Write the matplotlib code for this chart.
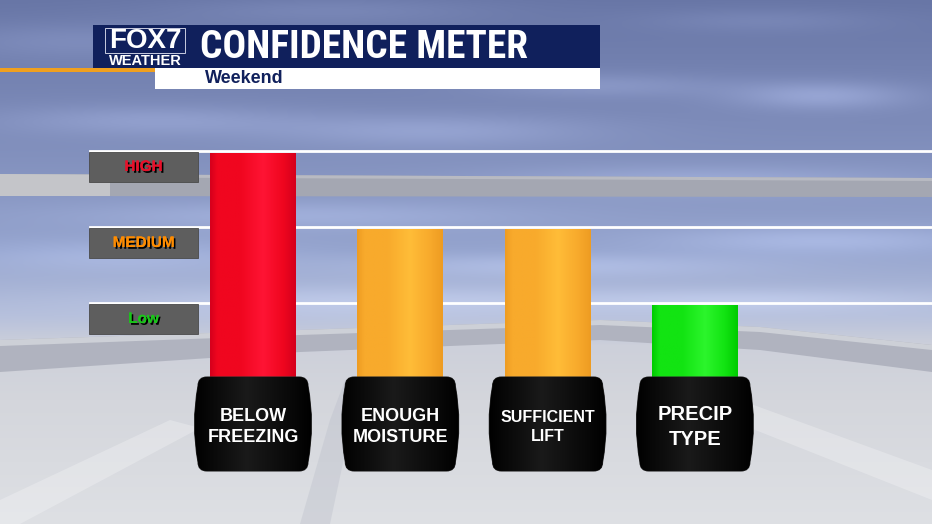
import os
import numpy as np
import matplotlib
matplotlib.use("Agg")
import matplotlib.pyplot as plt
from matplotlib.patches import Rectangle, Polygon, PathPatch
from matplotlib.path import Path
from matplotlib import patheffects, font_manager
from matplotlib.font_manager import FontProperties

# ---------------- data ----------------
categories = ["BELOW\nFREEZING", "ENOUGH\nMOISTURE", "SUFFICIENT\nLIFT", "PRECIP\nTYPE"]
confidence = [3, 2, 2, 1]          # 1 = Low, 2 = Medium, 3 = High
level_names = ["Low", "MEDIUM", "HIGH"]
level_values = [1, 2, 3]
title = "CONFIDENCE METER"
subtitle = "Weekend"

# ---------------- styles ----------------
bar_edge = ["#d6001c", "#ee9c22", "#ee9c22", "#00cc00"]
bar_mid = ["#f0061f", "#f8aa2c", "#f8aa2c", "#12e412"]
bar_hi = ["#ff1434", "#ffbd38", "#ffbd38", "#2cf52c"]
level_colors = ["#19c619", "#ff8c00", "#e8102a"]
label_sizes = [13, 13, 11.5, 14.5]

SANS = "Liberation Sans"


def find_condensed_bold():
    prefs = ["liberationsansnarrow", "robotocondensed", "opensans", "notosans", "roboto",
             "dejavusans", "lato", "inter"]
    found = []
    for f in font_manager.fontManager.ttflist:
        base = os.path.basename(f.fname).lower().replace("-", "").replace("_", "")
        if ("condensed" in base or "narrow" in base) and ("bold" in base) \
                and "semi" not in base and "extra" not in base and "italic" not in base \
                and "oblique" not in base:
            rank = len(prefs)
            for i, p in enumerate(prefs):
                if base.startswith(p):
                    rank = i
                    break
            found.append((rank, f.fname))
    if found:
        found.sort()
        return FontProperties(fname=found[0][1])
    return FontProperties(family=SANS, weight="bold")


COND = find_condensed_bold()

W, H = 932, 524
fig = plt.figure(figsize=(W / 100, H / 100), dpi=100)
renderer = fig.canvas.get_renderer()


def fit_text(t, target_w):
    bb = t.get_window_extent(renderer=renderer)
    if bb.width > 0:
        t.set_fontsize(t.get_fontsize() * target_w / bb.width)


# ---------------- background (decorative) ----------------
axd = fig.add_axes([0, 0, 1, 1], zorder=0)
axd.set_xlim(0, W)
axd.set_ylim(H, 0)
axd.axis("off")

yy, xx = np.mgrid[0:H, 0:W].astype(float)
ys = [0, 120, 250, 315, 345, 400, 524]
R = np.interp(yy, ys, [104, 124, 148, 182, 205, 212, 222])
G = np.interp(yy, ys, [118, 138, 163, 192, 208, 214, 224])
B = np.interp(yy, ys, [166, 184, 205, 220, 218, 220, 228])
img = np.stack([R, G, B], axis=-1)
clouds = [(820, 95, 90, 14, 30), (600, 85, 120, 12, 18), (430, 130, 160, 16, 22),
          (150, 120, 150, 15, 20), (700, 180, 200, 14, 20), (300, 215, 220, 14, 18),
          (820, 240, 160, 14, 22), (120, 255, 150, 16, 16), (560, 265, 200, 12, 18),
          (380, 300, 250, 15, 15), (760, 300, 180, 12, 15), (80, 40, 140, 18, 15),
          (330, 10, 160, 14, 14), (760, 20, 120, 12, 12)]
for cx, cy, sx, sy, amp in clouds:
    g = np.exp(-(((xx - cx) / sx) ** 2 + ((yy - cy) / sy) ** 2))
    img += amp * g[..., None]
img = np.clip(img, 0, 255) / 255.0
axd.imshow(img, extent=(0, W, H, 0), aspect="auto", zorder=0, interpolation="bilinear")

# rails
axd.add_patch(Polygon([(0, 174), (W, 178), (W, 197), (0, 196)], closed=True,
                      facecolor="#a4a7b2", edgecolor="none", zorder=1))
axd.add_patch(Polygon([(0, 174), (W, 178), (W, 181), (0, 177)], closed=True,
                      facecolor="#b8bac2", edgecolor="none", zorder=1))
axd.add_patch(Polygon([(0, 174), (110, 175), (110, 196), (0, 196)], closed=True,
                      facecolor="#c4c5c9", edgecolor="none", zorder=1))
axd.add_patch(Polygon([(0, 340), (300, 330), (600, 320), (760, 327), (W, 345),
                       (W, 372), (760, 350), (600, 340), (300, 352), (0, 372)],
                      closed=True, facecolor="#b0b3bf", edgecolor="none", zorder=1))
axd.add_patch(Polygon([(0, 340), (300, 330), (600, 320), (760, 327), (W, 345),
                       (W, 350), (760, 332), (600, 325), (300, 335), (0, 346)],
                      closed=True, facecolor="#cdd0d7", edgecolor="none", zorder=1))
# ground streaks
axd.add_patch(Polygon([(0, 500), (170, 420), (200, 428), (20, 524), (0, 524)], closed=True,
                      facecolor="white", alpha=0.25, edgecolor="none", zorder=1))
axd.add_patch(Polygon([(740, 400), (W, 470), (W, 500), (730, 420)], closed=True,
                      facecolor="white", alpha=0.25, edgecolor="none", zorder=1))
axd.add_patch(Polygon([(300, 524), (330, 420), (345, 380), (360, 380), (350, 430), (330, 524)],
                      closed=True, facecolor="#b8bcc8", alpha=0.35, edgecolor="none", zorder=1))

# ---------------- header ----------------
navy = "#10205c"
axd.add_patch(Rectangle((93, 25), 507, 44, facecolor=navy, edgecolor="none", zorder=3))
axd.add_patch(Rectangle((155, 68), 445, 21, facecolor="white", edgecolor="none", zorder=3))
axd.add_patch(Rectangle((0, 68), 155, 4, facecolor="#f0a01e", edgecolor="none", zorder=3))
axd.add_patch(Rectangle((105, 28), 80, 25, facecolor="none", edgecolor="#c8cce0", lw=0.7, zorder=4))
axd.text(145.5, 41.5, "FOX7", color="white", family=SANS, fontweight="bold", fontsize=20,
         ha="center", va="center", zorder=5)
t_title = axd.text(200, 47, title, color="white", fontproperties=COND, fontsize=28,
                   ha="left", va="center", zorder=5)
fit_text(t_title, 328)
axd.text(145.5, 61, "WEATHER", color="white", fontsize=10.5, fontweight="bold",
         family=SANS, ha="center", va="center", zorder=5)
axd.text(205, 78.5, subtitle, color=navy, fontsize=13, fontweight="bold",
         family=SANS, ha="left", va="center", zorder=5)

# ---------------- data axes ----------------
XS = 147.3   # px per category
YS = 76.0    # px per level
X0, Y0 = 253.0, 381.0
ax = fig.add_axes([0, 0, 1, 1], zorder=1)
ax.patch.set_alpha(0)
ax.set_xlim(-X0 / XS, (W - X0) / XS)
ax.set_ylim((Y0 - H) / YS, Y0 / YS)
ax.axis("off")

# level lines and level labels
for lv, name, col in zip(level_values, level_names, level_colors):
    ly = lv + 2.5 / YS
    ax.axhline(ly, xmin=90 / W, xmax=1, color="white", lw=2, zorder=2)
    bx0 = (89 - X0) / XS
    bw = 109 / XS
    bh = 30 / YS
    ax.add_patch(Rectangle((bx0, ly - bh - 1.5 / YS), bw, bh, facecolor="#5e5e5e",
                           edgecolor="#4a4a4a", lw=0.6, zorder=3))
    t = ax.text(bx0 + bw / 2, ly - bh / 2 - 1.5 / YS, name, color=col, fontsize=11,
                fontweight="bold", family=SANS, ha="center", va="center", zorder=4)
    t.set_path_effects([patheffects.withSimplePatchShadow(offset=(1.3, -1.3),
                                                           shadow_rgbFace="black", alpha=1),
                        patheffects.Normal()])

# bars
xpos = np.arange(len(categories))
bars = ax.bar(xpos, confidence, width=86 / XS, color=bar_mid, zorder=4, linewidth=0)
prof = np.linspace(0, 1, 96)
for b, c0, c1, c2 in zip(bars, bar_edge, bar_mid, bar_hi):
    x0, y0 = b.get_x(), b.get_y()
    w, h = b.get_width(), b.get_height()
    cmap = matplotlib.colors.LinearSegmentedColormap.from_list(
        "g", [(0, c0), (0.08, c1), (0.35, c1), (0.62, c2), (0.85, c1), (1, c0)])
    im = ax.imshow(prof[None, :], cmap=cmap, vmin=0, vmax=1, extent=(x0, x0 + w, y0, y0 + h),
                   aspect="auto", zorder=4.5, interpolation="bilinear")
    im.set_clip_path(b)


# category boxes
def barrel(cx, cy, w2=55, h2=47, r=9, bulge=3.5):
    pts = [(-w2 + r, h2), (w2 - r, h2), (w2, h2), (w2, h2 - r), (w2 + 2 * bulge, 0),
           (w2, -h2 + r), (w2, -h2), (w2 - r, -h2), (-w2 + r, -h2), (-w2, -h2),
           (-w2, -h2 + r), (-w2 - 2 * bulge, 0), (-w2, h2 - r), (-w2, h2), (-w2 + r, h2)]
    codes = [Path.MOVETO, Path.LINETO, Path.CURVE3, Path.CURVE3, Path.CURVE3, Path.CURVE3,
             Path.CURVE3, Path.CURVE3, Path.LINETO, Path.CURVE3, Path.CURVE3, Path.CURVE3,
             Path.CURVE3, Path.CURVE3, Path.CURVE3]
    verts = [(cx + px / XS, cy + py / YS) for px, py in pts]
    return Path(verts, codes)


box_cy = (Y0 - 424) / YS
shine = matplotlib.colors.LinearSegmentedColormap.from_list("s", ["#000000", "#1a1a1a", "#000000"])
for x, lab, fs in zip(xpos, categories, label_sizes):
    p = PathPatch(barrel(x, box_cy), facecolor="black", edgecolor="#2a2a2a", lw=0.8, zorder=6)
    ax.add_patch(p)
    g = np.interp(prof, [0, 0.45, 1], [0, 0.5, 1])
    im = ax.imshow(g[None, :], cmap=shine, vmin=0, vmax=1,
                   extent=(x - 60 / XS, x + 60 / XS, box_cy - 50 / YS, box_cy + 50 / YS),
                   aspect="auto", zorder=6.5)
    im.set_clip_path(p)
    ax.text(x, (Y0 - 427) / YS, lab, color="white", fontsize=fs, fontweight="bold",
            family=SANS, ha="center", va="center", linespacing=1.35, zorder=7)

fig.savefig("out.png", dpi=100)
